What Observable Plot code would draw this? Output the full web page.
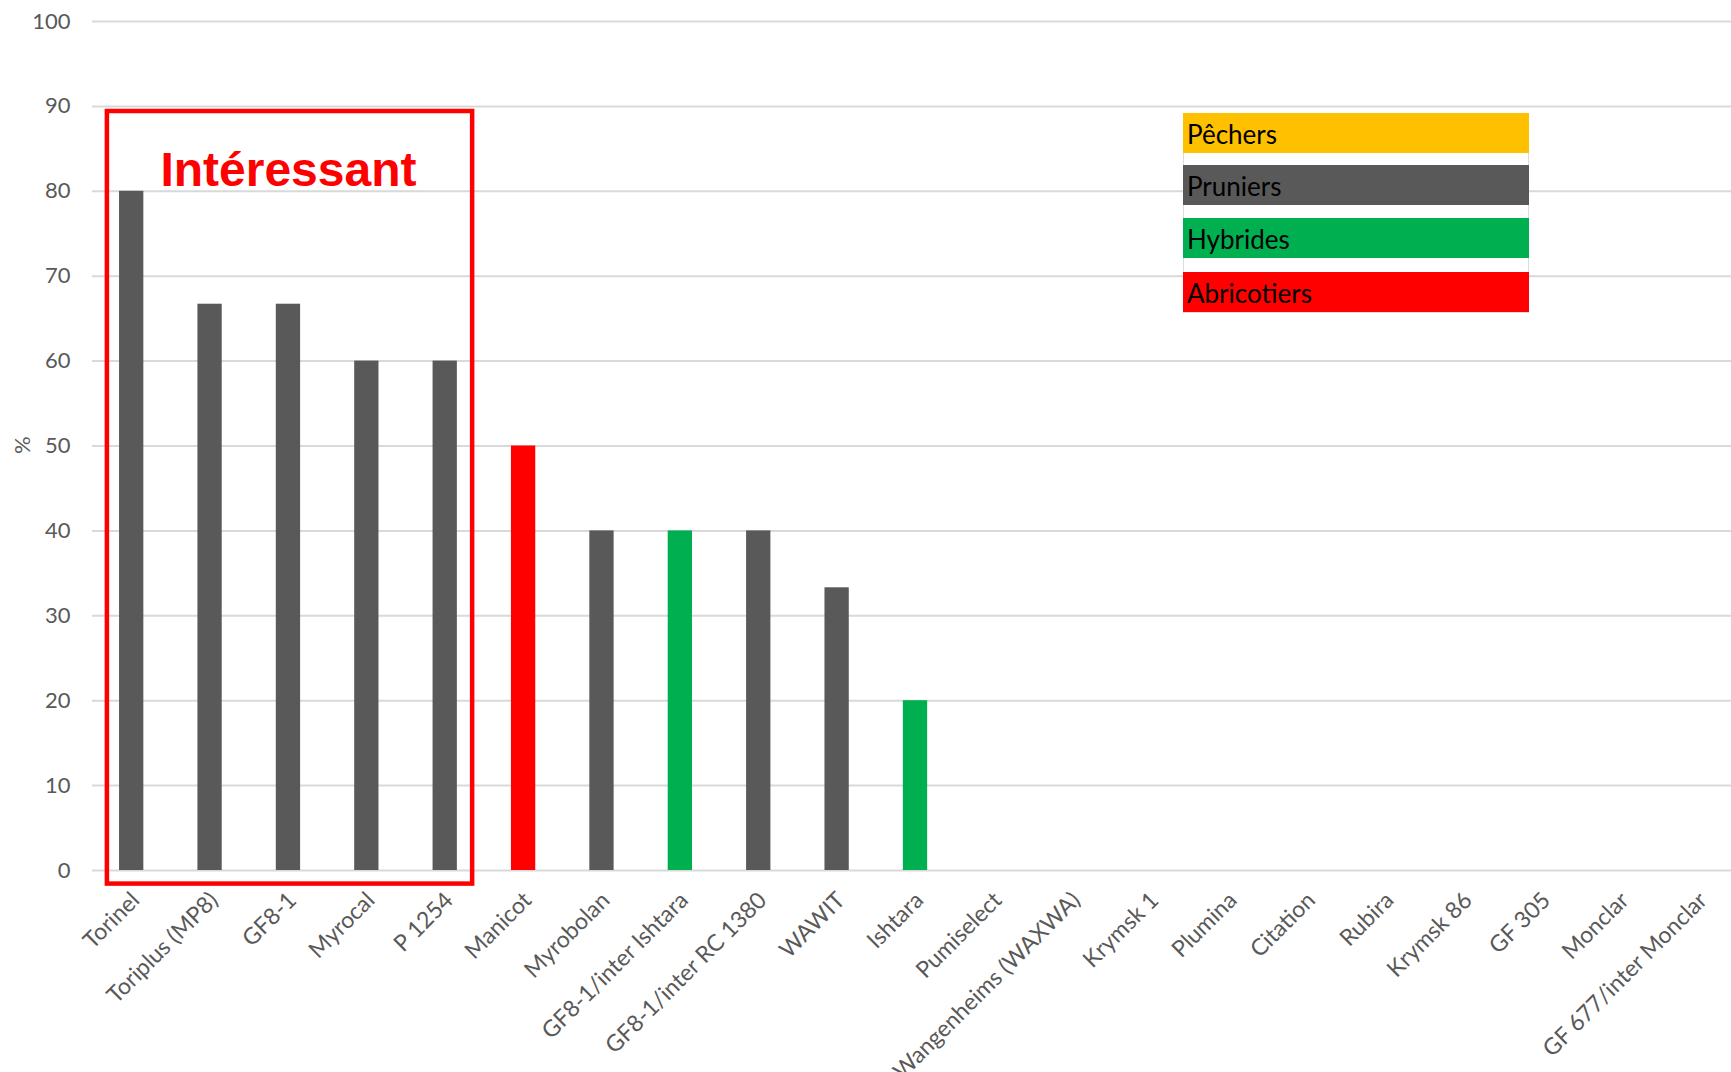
<!DOCTYPE html>
<html><head><meta charset="utf-8">
<script src="https://cdn.jsdelivr.net/npm/d3@7"></script>
<script src="https://cdn.jsdelivr.net/npm/@observablehq/plot@0.6"></script>
<style>
body{margin:0;background:#fff;overflow:hidden}
#wrap{position:relative;width:1731px;height:1072px;overflow:hidden}
#wrap svg{max-width:none !important;height:1072px !important}
#legend{position:absolute;left:1183px;top:113px;width:346px;height:200px;border:1px solid #dcdcdc;box-sizing:border-box}
.leg{position:absolute;left:-1px;width:346px;height:40px;font-family:Lato,"Noto Sans",sans-serif;font-size:26px;color:#000;line-height:42px;padding-left:4px;box-sizing:border-box}
</style></head><body><div id="wrap"></div>
<script>
const categories = ["Torinel","Toriplus (MP8)","GF8-1","Myrocal","P 1254","Manicot","Myrobolan","GF8-1/inter Ishtara","GF8-1/inter RC 1380","WAWIT","Ishtara","Pumiselect","Wangenheims (WAXWA)","Krymsk 1","Plumina","Citation","Rubira","Krymsk 86","GF 305","Monclar","GF 677/inter Monclar"];
const values = [80,66.7,66.7,60,60,50,40,40,40,33.3,20,0,0,0,0,0,0,0,0,0,0];
const groups = ["Pruniers","Pruniers","Pruniers","Pruniers","Pruniers","Abricotiers","Pruniers","Hybrides","Pruniers","Pruniers","Hybrides","Pruniers","Pruniers","Hybrides","Pruniers","Hybrides","Pêchers","Hybrides","Pêchers","Pêchers","Hybrides"];
const groupNames = ["Pêchers","Pruniers","Hybrides","Abricotiers"];
const groupColors = ["#ffc000","#595959","#00b050","#ff0000"];
const yTicks = [0,10,20,30,40,50,60,70,80,90,100];
const highlighted = ["Torinel","Toriplus (MP8)","GF8-1","Myrocal","P 1254"];
const highlightLabel = "Intéressant";
const highlightTop = 89.4, highlightBottom = -1.6, highlightLabelY = 82.4;

const data = categories.map((c,i)=>({cat:c, value:values[i], group:groups[i]}));

function highlightBox(index, scales, vals, dimensions) {
  const x = scales.x, y = scales.y;
  const bw = x.bandwidth ? x.bandwidth() : 0;
  const step = x.step ? x.step() : (dimensions.width - dimensions.marginLeft - dimensions.marginRight)/categories.length;
  const c0 = x(highlighted[0]) + bw/2;
  const c1 = x(highlighted[highlighted.length-1]) + bw/2;
  const x0 = c0 - 0.31*step, x1 = c1 + 0.35*step;
  const y0 = y(highlightTop), y1 = y(highlightBottom);
  return d3.create("svg:rect")
    .attr("x", x0).attr("y", y0).attr("width", x1-x0).attr("height", y1-y0)
    .attr("fill","none").attr("stroke","#ff0000").attr("stroke-width",4.5).node();
}

const chart = Plot.plot({
  width:1738, height:1072,
  marginLeft:92, marginRight:0, marginTop:21, marginBottom:202,
  x:{domain:categories, paddingInner:0.69, paddingOuter:0.345, round:false, label:null},
  y:{domain:[0,100], label:null},
  color:{domain:groupNames, range:groupColors},
  style:{fontFamily:"Lato, 'Noto Sans', sans-serif", background:"#fff", overflow:"visible", maxWidth:"none"},
  marks:[
    Plot.ruleY(yTicks,{stroke:"#d9d9d9", strokeWidth:2}),
    Plot.barY(data,{x:"cat", y:"value", fill:"group"}),
    Plot.axisY({ticks:yTicks, tickSize:0, tickPadding:22, fontSize:22, color:"#595959", label:null}),
    Plot.axisX({tickSize:0, tickRotate:-45, tickPadding:26, dx:4, fontSize:23, color:"#595959", label:null}),
    Plot.text(["%"],{frameAnchor:"left", dx:-70, dy:8, rotate:-90, fontSize:22, fill:"#595959"}),
    Plot.text([highlightLabel],{x:()=>highlighted[2], y:()=>highlightLabelY, fontSize:48, fontWeight:"bold", fill:"#ff0000", fontFamily:"'Liberation Sans', Arial, sans-serif", lineAnchor:"middle"}),
    highlightBox
  ]
});
chart.style.maxWidth = "none";
chart.style.width = "1738px";
chart.style.height = "1072px";
const wrap = document.getElementById("wrap");
wrap.appendChild(chart);

const legend = document.createElement("div");
legend.id = "legend";
const legTops = [0,52,105,159];
groupNames.forEach((g,i)=>{
  const d = document.createElement("div");
  d.className = "leg";
  d.style.top = (legTops[i]-1) + "px";
  d.style.background = groupColors[i];
  d.textContent = g;
  legend.appendChild(d);
});
wrap.appendChild(legend);
</script></body></html>
